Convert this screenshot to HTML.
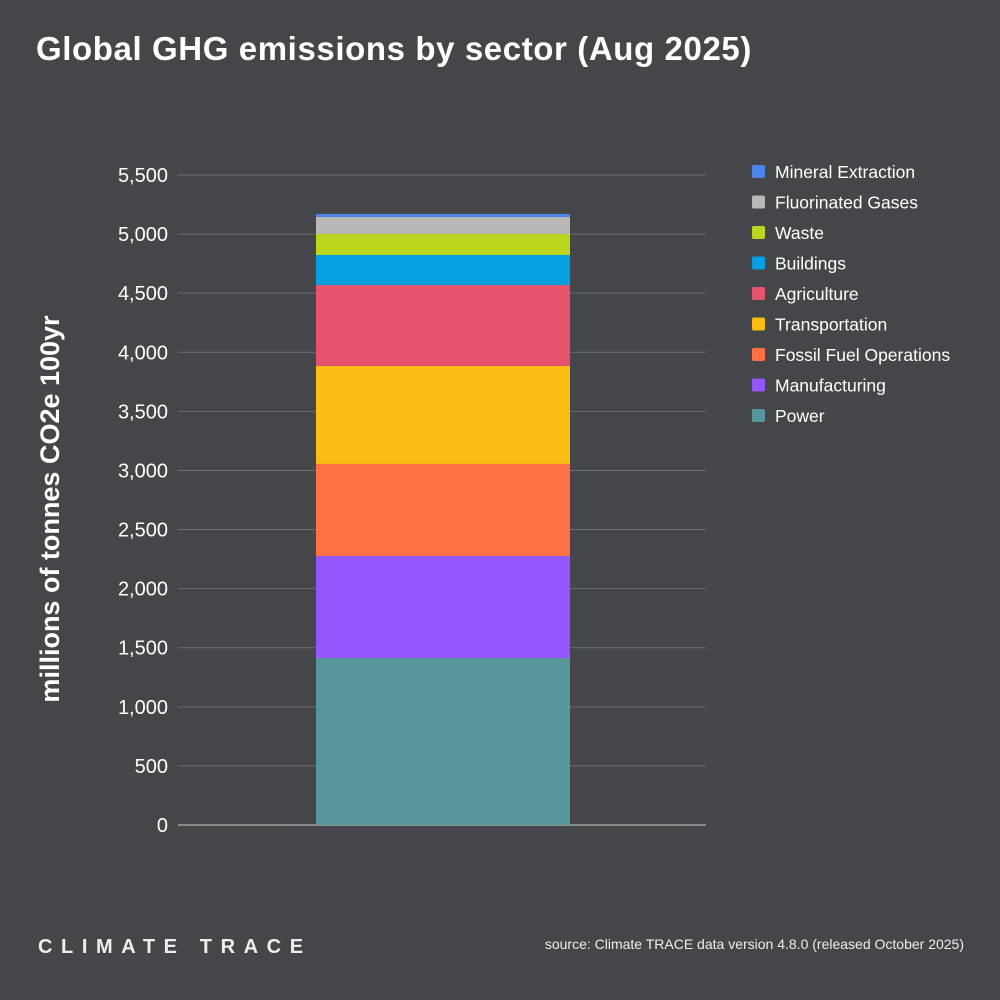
<!DOCTYPE html>
<html><head><meta charset="utf-8"><style>
body{margin:0;background:#454649;}
#wrap{position:relative;width:1000px;height:1000px;background:#454649;font-family:"Liberation Sans",sans-serif;color:#fff;overflow:hidden}
.title{position:absolute;left:36px;top:30px;font-size:33px;font-weight:bold;letter-spacing:0.6px}
.brand{position:absolute;left:38px;top:936px;font-size:20px;font-weight:bold;letter-spacing:8.6px;color:#eee}
.src{position:absolute;right:36px;top:936px;font-size:14px;color:#eee}
</style></head><body>
<div id="wrap">
<div class="title">Global GHG emissions by sector (Aug 2025)</div>
<svg id="chart" width="1000" height="1000" style="position:absolute;left:0;top:0"></svg>
<div class="brand">CLIMATE TRACE</div>
<div class="src">source: Climate TRACE data version 4.8.0 (released October 2025)</div>
</div>
<script>
const sectors=["Power","Manufacturing","Fossil Fuel Operations","Transportation","Agriculture","Buildings","Waste","Fluorinated Gases","Mineral Extraction"];
const values=[1413,863,779,829,685,254,178,144,25];
const colors=["#56979e","#9656fd","#ff7043","#fbbc13","#e6536e","#059fe1","#bed520","#b9b7b7","#4e83ec"];
const ticks=[0,500,1000,1500,2000,2500,3000,3500,4000,4500,5000,5500];
const tickLabels=["0","500","1,000","1,500","2,000","2,500","3,000","3,500","4,000","4,500","5,000","5,500"];
const NS="http://www.w3.org/2000/svg";
const svg=document.getElementById('chart');
const y0=825,yTop=175,maxV=5500;
const y=v=>y0-(v/maxV)*(y0-yTop);
function mk(t,a){const e=document.createElementNS(NS,t);for(const k in a)e.setAttribute(k,a[k]);svg.appendChild(e);return e;}
ticks.forEach((t,i)=>{
 const l=mk('line',{x1:178,x2:706,y1:y(t),y2:y(t),stroke:t===0?'#cfcfcf':'#6d6e71','stroke-width':1});
 
 
 const tx=mk('text',{x:168,y:y(t)+7,'text-anchor':'end','font-size':20,fill:'#fff','font-family':'Liberation Sans, sans-serif'});
 tx.textContent=tickLabels[i];
 
 
});
const yt=mk('text',{x:0,y:0,transform:'translate(59,509) rotate(-90)','text-anchor':'middle','font-size':27,'font-weight':'bold',fill:'#fff','font-family':'Liberation Sans, sans-serif'});
yt.textContent='millions of tonnes CO2e 100yr';


let cum=0;
values.forEach((v,i)=>{
 const r=mk('rect',{x:316,width:254,y:y(cum+v),height:y(cum)-y(cum+v),fill:colors[i]});
 
 
 cum+=v;
});
for(let k=0;k<sectors.length;k++){
 const i=sectors.length-1-k, ly=172+k*30.5;
 const s=mk('rect',{x:752,y:ly-7,width:13,height:13,rx:2,fill:colors[i]});
 
 
 const t=mk('text',{x:775,y:ly+6,'font-size':17.5,fill:'#fff','font-family':'Liberation Sans, sans-serif',textLength:0});
 t.removeAttribute('textLength');
 t.textContent=sectors[i];
 
 
}
</script>
</body></html>
